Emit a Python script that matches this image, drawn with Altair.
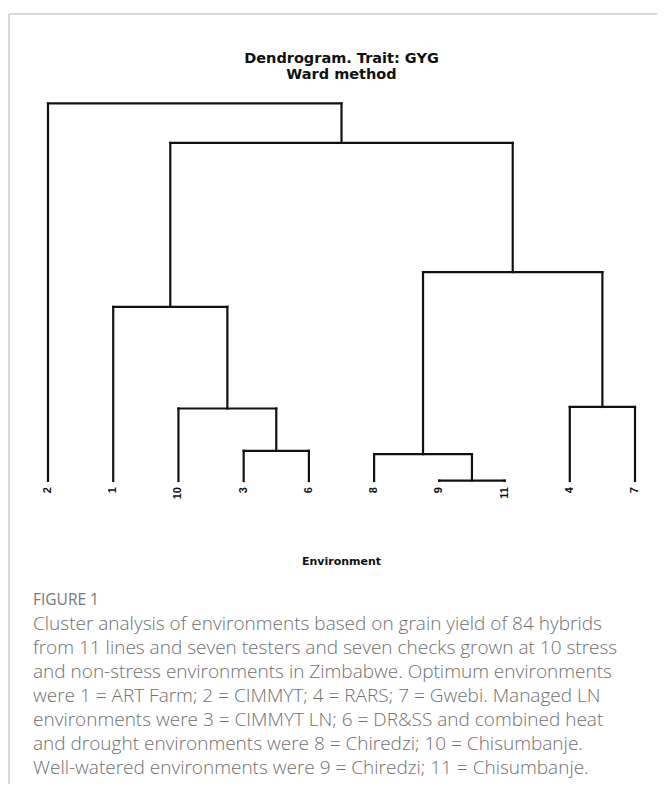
import altair as alt
import pandas as pd

# ---- data (Ward method, trait GYG) ----
leaf_labels = ["2", "1", "10", "3", "6", "8", "9", "11", "4", "7"]   # leaf order, left to right
merge_left = ["9", "8", "3", "10", "4", "1", "m2", "m6", "2"]
merge_right = ["11", "m1", "6", "m3", "7", "m4", "m5", "m7", "m8"]
merge_height = [0.1, 7.1, 8.0, 19.2, 19.6, 46.1, 55.3, 89.5, 100.0]

title_lines = ["Dendrogram. Trait: GYG", "Ward method"]
x_title = "Environment"
fig_label = "FIGURE 1"
caption_lines = [
    "Cluster analysis of environments based on grain yield of 84 hybrids",
    "from 11 lines and seven testers and seven checks grown at 10 stress",
    "and non-stress environments in Zimbabwe. Optimum environments",
    "were 1 = ART Farm; 2 = CIMMYT; 4 = RARS; 7 = Gwebi. Managed LN",
    "environments were 3 = CIMMYT LN; 6 = DR&SS and combined heat",
    "and drought environments were 8 = Chiredzi; 10 = Chisumbanje.",
    "Well-watered environments were 9 = Chiredzi; 11 = Chisumbanje.",
]

# ---- build dendrogram segments from the merge list ----
node_x = {lab: float(i) for i, lab in enumerate(leaf_labels)}
node_h = {lab: 0.0 for lab in leaf_labels}
segs = []
for k, (a, b, h) in enumerate(zip(merge_left, merge_right, merge_height), start=1):
    xa, xb = node_x[a], node_x[b]
    segs.append({"x": xa, "x2": xb, "y": h, "y2": h})
    segs.append({"x": xa, "x2": xa, "y": node_h[a], "y2": h})
    segs.append({"x": xb, "x2": xb, "y": node_h[b], "y2": h})
    name = f"m{k}"
    node_x[name] = (xa + xb) / 2
    node_h[name] = h
seg_df = pd.DataFrame(segs)
leaf_df = pd.DataFrame({"pos": [float(i) for i in range(len(leaf_labels))],
                        "label": leaf_labels, "h": [0.0] * len(leaf_labels)})

W, H = 649, 776
xs = alt.Scale(domain=[0, len(leaf_labels) - 1], range=[40, 627])
ys = alt.Scale(domain=[0, 100], range=[473, 95.3])

tree = alt.Chart(seg_df).mark_rule(color="#111111", strokeWidth=2.2, strokeCap="square").encode(
    x=alt.X("x:Q", scale=xs, axis=None),
    x2="x2:Q",
    y=alt.Y("y:Q", scale=ys, axis=None),
    y2="y2:Q",
)

labels = alt.Chart(leaf_df).mark_text(
    angle=270, align="right", baseline="middle", dx=-6,
    font="Liberation Sans", fontWeight="bold", fontSize=11, color="#111111"
).encode(
    x=alt.X("pos:Q", scale=xs, axis=None),
    y=alt.Y("h:Q", scale=ys, axis=None),
    text="label:N",
)

title = alt.Chart(pd.DataFrame({"a": [0]})).mark_text(
    text=title_lines, lineHeight=16, align="center", baseline="alphabetic",
    font="DejaVu Sans", fontWeight="bold", fontSize=14.5, color="#111111"
).encode(x=alt.value(333.5), y=alt.value(55))

xt = alt.Chart(pd.DataFrame({"a": [0]})).mark_text(
    text=x_title, align="center", baseline="alphabetic",
    font="DejaVu Sans", fontWeight="bold", fontSize=11, color="#111111"
).encode(x=alt.value(333.5), y=alt.value(557))

figlab = alt.Chart(pd.DataFrame({"a": [0]})).mark_text(
    text=fig_label, align="left", baseline="alphabetic",
    font="Open Sans", fontSize=15.5, color="#777777"
).encode(x=alt.value(25), y=alt.value(597))

caption = alt.Chart(pd.DataFrame({"a": [0]})).mark_text(
    text=caption_lines, lineHeight=24, align="left", baseline="alphabetic",
    font="Open Sans", fontSize=19, fontWeight=300, color="#707070"
).encode(x=alt.value(25), y=alt.value(622))

frame_top = alt.Chart(pd.DataFrame({"a": [0]})).mark_rule(color="#cccccc", strokeWidth=1.5).encode(
    x=alt.value(1), x2=alt.value(W), y=alt.value(6), y2=alt.value(6))
frame_left = alt.Chart(pd.DataFrame({"a": [0]})).mark_rule(color="#cccccc", strokeWidth=1.5).encode(
    x=alt.value(1), x2=alt.value(1), y=alt.value(6), y2=alt.value(H))

chart = alt.layer(frame_top, frame_left, tree, labels, title, xt, figlab, caption).properties(
    width=W, height=H, autosize=alt.AutoSizeParams(type="none"), padding=0,
    background="white",
).configure_view(stroke=None)

chart.save("out.html", embed_options={"renderer": "svg", "actions": False})
